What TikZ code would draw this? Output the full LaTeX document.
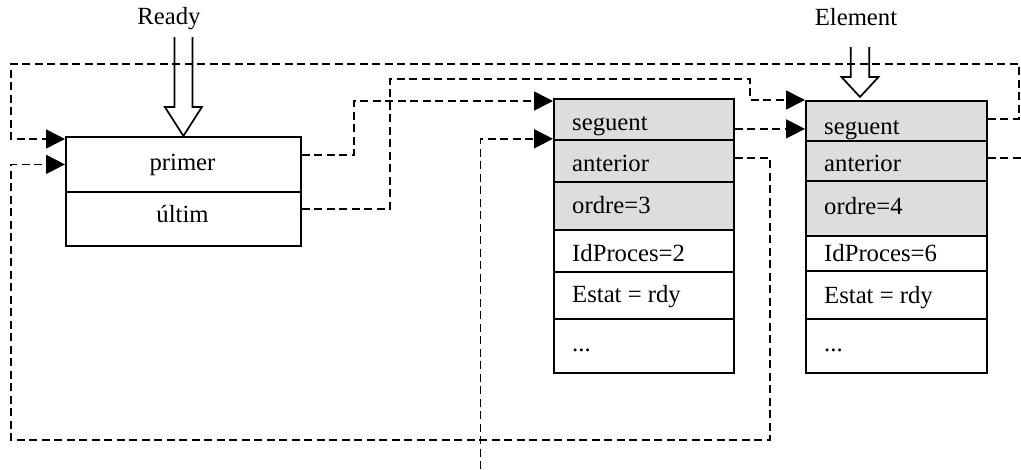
\documentclass[tikz,border=0pt]{standalone}
\usepackage{fontspec}
\setmainfont{Liberation Serif}
\usetikzlibrary{arrows.meta}
\definecolor{keygray}{RGB}{221,221,221}
\begin{document}
\begin{tikzpicture}[
  x=1pt, y=-1pt,
  cell/.style={draw, line width=1.8pt, inner sep=0pt, anchor=north west},
  keycell/.style={cell, fill=keygray},
  lbl/.style={font=\fontsize{24.7}{28}\selectfont, inner sep=0pt, anchor=base west},
  title/.style={font=\fontsize{24.7}{28}\selectfont, inner sep=0pt, anchor=base},
  link/.style={line width=1.6pt, dash pattern=on 8pt off 4.5pt},
  ptr/.style={link, -{Triangle[length=19pt,width=19pt]}},
  hollow/.style={line width=1.7pt, line join=miter},
]
\useasboundingbox (0,0) rectangle (1021,469);

% queue header
\node[cell, minimum width=235pt, minimum height=55pt] (pr1) at (65,136) {};
\node[cell, minimum width=235pt, minimum height=54pt] (pr2) at (65,191) {};
\node[title] (tpr1) at (182.5,170) {primer};
\node[title] (tpr2) at (182.5,222.7) {últim};

% first element
\node[keycell, minimum width=180pt, minimum height=41pt] (n1s) at (553,98) {};
\node[keycell, minimum width=180pt, minimum height=42pt] (n1a) at (553,139) {};
\node[keycell, minimum width=180pt, minimum height=48pt] (n1o) at (553,181) {};
\node[cell, minimum width=180pt, minimum height=42pt] (n1i) at (553,229) {};
\node[cell, minimum width=180pt, minimum height=47pt] (n1e) at (553,271) {};
\node[cell, minimum width=180pt, minimum height=54pt] (n1d) at (553,318) {};
\node[lbl] (t1s) at (572,130.7) {seguent};
\node[lbl] (t1a) at (572,171.7) {anterior};
\node[lbl] (t1o) at (572,213) {ordre=3};
\node[lbl] (t1i) at (572,261.7) {IdProces=2};
\node[lbl] (t1e) at (572,302.7) {Estat = rdy};
\node[lbl] (t1d) at (572,351.7) {...};

% second element
\node[keycell, minimum width=181pt, minimum height=40pt] (n2s) at (805,100) {};
\node[keycell, minimum width=181pt, minimum height=40pt] (n2a) at (805,140) {};
\node[keycell, minimum width=181pt, minimum height=55pt] (n2o) at (805,180) {};
\node[cell, minimum width=181pt, minimum height=35pt] (n2i) at (805,235) {};
\node[cell, minimum width=181pt, minimum height=48pt] (n2e) at (805,270) {};
\node[cell, minimum width=181pt, minimum height=54pt] (n2d) at (805,318) {};
\node[lbl] (t2s) at (824,134) {seguent};
\node[lbl] (t2a) at (824,171.7) {anterior};
\node[lbl] (t2o) at (824,214) {ordre=4};
\node[lbl] (t2i) at (824,261.7) {IdProces=6};
\node[lbl] (t2e) at (824,303) {Estat = rdy};
\node[lbl] (t2d) at (824,351.7) {...};

% entry labels and hollow arrows
\node[title] (ready) at (169,24) {Ready};
\node[title] (elem) at (856,25) {Element};
\draw[hollow] ([xshift=-9pt,yshift=99pt]pr1.north) -- ([xshift=-9pt,yshift=29pt]pr1.north)
  -- ([xshift=-18.5pt,yshift=29pt]pr1.north) -- (pr1.north)
  -- ([xshift=18.5pt,yshift=29pt]pr1.north) -- ([xshift=9pt,yshift=29pt]pr1.north)
  -- ([xshift=9pt,yshift=99pt]pr1.north);
\coordinate (etip) at (860,97);
\draw[hollow] ([xshift=-9.3pt,yshift=50pt]etip) -- ([xshift=-9.3pt,yshift=20pt]etip)
  -- ([xshift=-18.5pt,yshift=20pt]etip) -- (etip)
  -- ([xshift=18.5pt,yshift=20pt]etip) -- ([xshift=9.3pt,yshift=20pt]etip)
  -- ([xshift=9.3pt,yshift=50pt]etip);

% connector ends and bends
\coordinate (pin1) at ([yshift=-3pt]pr1.north west);
\coordinate (p1out) at ([yshift=9.5pt]pr1.east);
\coordinate (p2out) at ([yshift=10pt]pr2.east);
\coordinate (n1in1) at ([yshift=-3pt]n1s.north west);
\coordinate (n1in2) at ([yshift=2pt]n1s.south west);
\coordinate (s1out) at ([yshift=-9.5pt]n1s.east);
\coordinate (a1out) at ([yshift=3pt]n1a.east);
\coordinate (s2out) at ([yshift=2pt]n2s.east);
\coordinate (a2out) at ([yshift=3pt]n2a.east);
\coordinate (topR) at (1019,64);
\coordinate (topL) at (11,64);
\coordinate (botR) at (770,440);
\coordinate (botL) at (11,440);
\coordinate (b1) at (354,0);
\coordinate (b2) at (390,79);
\coordinate (b3) at (750,79);
\coordinate (up1) at (480.5,469);
\coordinate (rim) at (1021,0);

% pointers
\draw[ptr] (s2out) -| (topR) -- (topL) |- (pin1);
\draw[link] (a2out) -- (a2out -| rim);
\draw[ptr] (a1out) -| (botR) -- (botL) |- (pr1.west);
\draw[ptr] (p1out) -| (b1 |- n1in1) -- (n1in1);
\draw[ptr] (p2out) -| (b2) -- (b3) |- (n2s.north west);
\draw[ptr] (s1out) -- (s1out -| n2s.west);
\draw[ptr] (up1) |- (n1in2);
\end{tikzpicture}
\end{document}
